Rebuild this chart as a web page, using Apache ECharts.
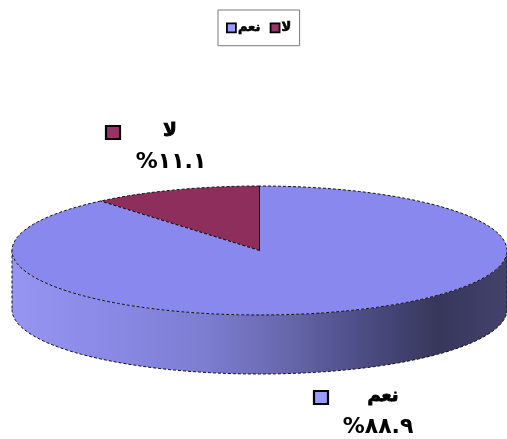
<!DOCTYPE html>
<html>
<head>
<meta charset="utf-8">
<script src="https://cdn.jsdelivr.net/npm/echarts@6/dist/echarts.min.js"></script>
<style>
  html, body { margin: 0; padding: 0; background: #fff; }
  #chart { width: 507px; height: 439px; }
</style>
</head>
<body>
<div id="chart"></div>
<script>
// Answer categories, swept counter-clockwise from 12 o'clock
const categories = ['لا', 'نعم'];
const shares = [11.1, 88.9];
// Legend order (left to right)
const legendOrder = ['نعم', 'لا'];

const faceColors = ['#8E2E5C', '#8888EE'];
const keyColors = ['#993366', '#9999FF'];
const sideGradient = [
  { offset: 0, color: '#9696F2' },
  { offset: 0.2, color: '#8A8AE6' },
  { offset: 0.4, color: '#7C7CD0' },
  { offset: 0.55, color: '#6868AE' },
  { offset: 0.7, color: '#4E4E88' },
  { offset: 0.86, color: '#37375B' },
  { offset: 1, color: '#42426C' }
];
const DEPTH = 59;            // thickness of the disc in pixels
const FONT = '"DejaVu Sans", sans-serif';

// label placement for each slice: marker box, name, percentage
const labelLayout = [
  { box: [105, 125], name: [170, 131], pct: [171, 162] },
  { box: [313, 390], name: [383, 396], pct: [378, 427] }
];

const total = shares.reduce((a, b) => a + b, 0);

function toArabicDigits(s) {
  return s.replace(/[0-9]/g, d => '٠١٢٣٤٥٦٧٨٩'[+d]);
}

function arcPoints(api, a0, a1, dy) {
  const pts = [];
  const steps = Math.max(2, Math.ceil(Math.abs(a1 - a0) / 2));
  for (let k = 0; k <= steps; k++) {
    const t = (a0 + (a1 - a0) * k / steps) * Math.PI / 180;
    const p = api.coord([Math.cos(t), Math.sin(t)]);
    pts.push([p[0], p[1] + dy]);
  }
  return pts;
}

const dash = { stroke: '#111', lineWidth: 1, lineDash: [3, 2] };

function edge(x1, y1, x2, y2) {
  // vertical edges are drawn solid, the rest dashed
  const style = Math.abs(x1 - x2) < 0.5 ? { stroke: '#000', lineWidth: 1 } : dash;
  return { type: 'line', shape: { x1, y1, x2, y2 }, style };
}

function renderSlice(params, api) {
  const i = params.seriesIndex;
  let before = 0;
  for (let k = 0; k < i; k++) before += shares[k];
  const a0 = 90 + before / total * 360;
  const a1 = 90 + (before + shares[i]) / total * 360;
  const center = api.coord([0, 0]);
  const children = [];

  // front wall: part of the slice facing the viewer (180°..360°, 540°..720°)
  [[180, 360], [540, 720]].forEach(([f0, f1]) => {
    const s0 = Math.max(a0, f0), s1 = Math.min(a1, f1);
    if (s1 <= s0) return;
    const top = arcPoints(api, s0, s1, 0);
    const bottom = arcPoints(api, s0, s1, DEPTH);
    children.push({
      type: 'polygon',
      shape: { points: top.concat(bottom.slice().reverse()) },
      style: {
        fill: { type: 'linear', x: 10, y: 0, x2: 507, y2: 0, global: true, colorStops: sideGradient }
      }
    });
    children.push({ type: 'polyline', shape: { points: bottom }, style: Object.assign({ fill: null }, dash) });
    children.push({ type: 'line', shape: { x1: top[0][0], y1: top[0][1], x2: bottom[0][0], y2: bottom[0][1] }, style: dash });
    const n = top.length - 1;
    children.push({ type: 'line', shape: { x1: top[n][0], y1: top[n][1], x2: bottom[n][0], y2: bottom[n][1] }, style: dash });
  });

  // top face
  const arc = arcPoints(api, a0, a1, 0);
  children.push({
    type: 'polygon',
    shape: { points: [center].concat(arc) },
    style: { fill: faceColors[i] }
  });
  children.push({ type: 'polyline', shape: { points: arc }, style: Object.assign({ fill: null }, dash) });
  const m = arc.length - 1;
  children.push(edge(center[0], center[1], arc[0][0], arc[0][1]));
  children.push(edge(center[0], center[1], arc[m][0], arc[m][1]));

  // data label
  const lay = labelLayout[i];
  children.push({
    type: 'rect',
    shape: { x: lay.box[0] + 1, y: lay.box[1] + 1, width: 14, height: 13 },
    style: { fill: keyColors[i], stroke: '#000', lineWidth: 2.2 }
  });
  children.push({
    type: 'text',
    style: {
      x: lay.name[0], y: lay.name[1], text: categories[i],
      font: 'bold 18px ' + FONT, fill: '#000', stroke: '#000', lineWidth: 1,
      align: 'center', verticalAlign: 'middle'
    }
  });
  children.push({
    type: 'text',
    style: {
      x: lay.pct[0], y: lay.pct[1], text: '%' + toArabicDigits(api.value(1).toFixed(1)),
      font: 'bold 22px ' + FONT, fill: '#000', align: 'center', verticalAlign: 'middle'
    }
  });

  return { type: 'group', children };
}

const chart = echarts.init(document.getElementById('chart'), null, { renderer: 'canvas' });
chart.setOption({
  animation: false,
  grid: { left: 12, width: 502, top: 186, height: 129 },
  xAxis: { type: 'value', min: -1, max: 1, show: false },
  yAxis: { type: 'value', min: -1, max: 1, show: false },
  legend: {
    data: legendOrder.map(name => ({
      name,
      itemStyle: { color: keyColors[categories.indexOf(name)], borderColor: '#000', borderWidth: 1.8 }
    })),
    top: 10,
    left: 218,
    icon: 'rect',
    itemWidth: 9,
    itemHeight: 9,
    itemGap: 9,
    padding: [11, 8],
    borderColor: '#7a7a7a',
    borderWidth: 1,
    textStyle: {
      fontFamily: FONT, fontWeight: 'bold', fontSize: 13, color: '#000',
      textBorderColor: '#000', textBorderWidth: 0.7, padding: [0, 0, 0, -3]
    },
    selectedMode: false
  },
  series: categories.map((name, i) => ({
    type: 'custom',
    name,
    coordinateSystem: 'cartesian2d',
    clip: false,
    silent: true,
    itemStyle: { color: keyColors[i] },
    encode: { x: -1, y: -1 },
    data: [[i, shares[i]]],
    renderItem: renderSlice
  }))
});
</script>
</body>
</html>
